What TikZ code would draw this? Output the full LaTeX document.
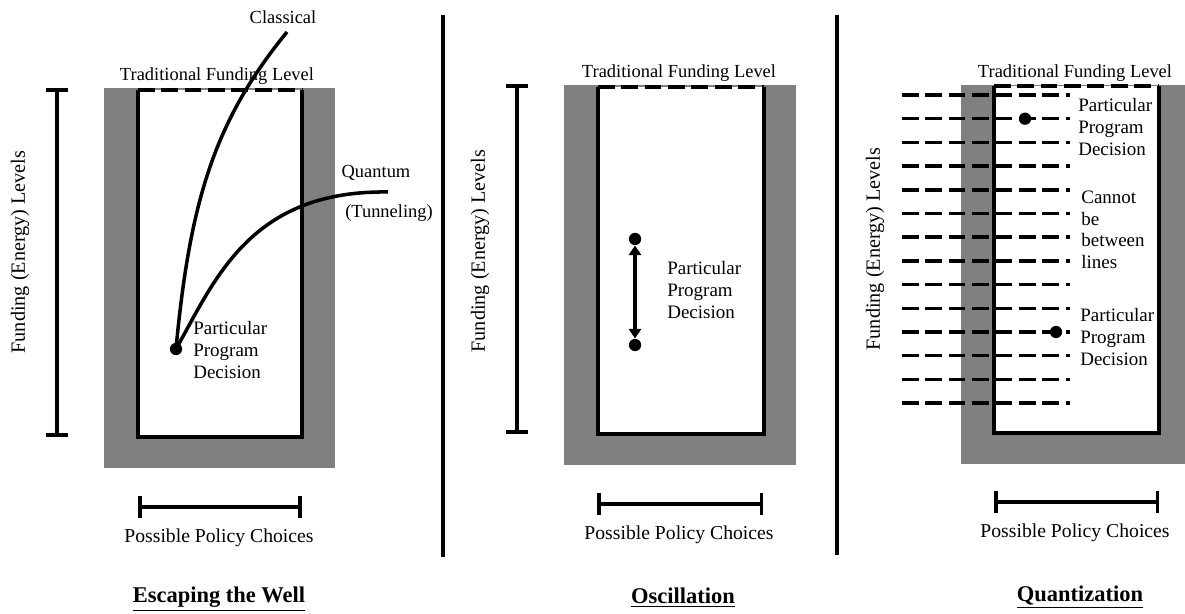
\documentclass[tikz,border=0pt]{standalone}
\usepackage{fontspec}
\setmainfont{Liberation Serif}
\usetikzlibrary{arrows.meta}
\definecolor{wellgrey}{RGB}{128,128,128}
\tikzset{
  wallfill/.style={fill=wellgrey, draw=none},
  wline/.style={line width=2pt, draw=black},
  wdash/.style={wline, dash pattern=on 9.5pt off 3.8pt},
  rangebar/.style={wline, {Bar[width=12.5pt]}-{Bar[width=12.5pt]}},
  dotnode/.style={circle, fill=black, inner sep=0pt, minimum size=7pt},
  lbl/.style={font=\fontsize{10.5}{12}\selectfont, inner sep=0pt},
  axlbl/.style={font=\fontsize{11.2}{13}\selectfont, inner sep=0pt},
  desc/.style={font=\fontsize{10.8}{12.3}\selectfont, align=left, anchor=west, inner sep=0pt},
  vlbl/.style={font=\fontsize{11.5}{13}\selectfont, rotate=90, inner sep=0pt},
  paneltitle/.style={font=\fontsize{12.8}{15}\bfseries\selectfont, inner sep=0pt}
}
\begin{document}
\begin{tikzpicture}[x=0.02cm,y=-0.02cm]
\useasboundingbox (0,0) rectangle (1185,614);

% ---------- separators ----------
\coordinate (s1t) at (443,15);  \coordinate (s1b) at (443,557);
\coordinate (s2t) at (837,15);  \coordinate (s2b) at (837,555);
\draw[wline] (s1t) -- (s1b);
\draw[wline] (s2t) -- (s2b);

% ================= Panel 1: Escaping the Well =================
\fill[wallfill] (104,88) rectangle (335,468);
\fill[white] (138,90) rectangle (302,437);
\draw[wline] (138,90) -- (138,437) -- (302,437) -- (302,90);
\draw[wdash] (138,90) -- (302,90);
\coordinate (a1t) at (57,88); \coordinate (a1b) at (57,437);
\draw[rangebar] (a1t) -- (a1b);
\coordinate (h1l) at (138,507); \coordinate (h1r) at (302,507);
\draw[rangebar] (h1l) -- (h1r);
\node[vlbl] (v1) at (20,252) {Funding (Energy) Levels};
\node[lbl] (t1) at (217,76) {Traditional Funding Level};
\node[axlbl] (p1) at (219,538) {Possible Policy Choices};
\node[paneltitle] (n1) at (219,599) {\underline{Escaping the Well}};
\node[dotnode] (d1) at (176,349) {};
\coordinate (cend) at (287,32);
\coordinate (qend) at (388,192);
\draw[wline] (d1.center) .. controls (190,200) and (215,120) .. (cend);
\draw[wline] (d1.center) .. controls (215,280) and (250,190) .. (qend);
\node[lbl] (cl) at (283,17) {Classical};
\node[lbl] (qu) at (376,173) {Quantum};
\node[lbl] (tu) at (389,213) {(Tunneling)};
\node[desc] (pd1) at (193,350) {Particular\\Program\\Decision};

% ================= Panel 2: Oscillation =================
\fill[wallfill] (564,85) rectangle (796,465);
\fill[white] (598,87) rectangle (764,434);
\draw[wline] (598,87) -- (598,434) -- (764,434) -- (764,87);
\draw[wdash] (598,87) -- (764,87);
\coordinate (a2t) at (517,84); \coordinate (a2b) at (517,434);
\draw[rangebar] (a2t) -- (a2b);
\coordinate (h2l) at (597,504); \coordinate (h2r) at (763,504);
\draw[rangebar] (h2l) -- (h2r);
\node[vlbl] (v2) at (480,251) {Funding (Energy) Levels};
\node[lbl] (t2) at (679,73) {Traditional Funding Level};
\node[axlbl] (p2) at (679,535) {Possible Policy Choices};
\node[paneltitle] (n2) at (683,598) {\underline{Oscillation}};
\node[dotnode] (od1) at (635,239) {};
\node[dotnode] (od2) at (635,345) {};
\draw[wline, {Triangle[width=7pt,length=5.5pt]}-{Triangle[width=7pt,length=5.5pt]}] (od1) -- (od2);
\node[desc] (pd2) at (667,290) {Particular\\Program\\Decision};

% ================= Panel 3: Quantization =================
\fill[wallfill] (961,85) rectangle (1185,464);
\fill[white] (994,86) rectangle (1159,433);
\draw[wline] (994,86) -- (994,433) -- (1159,433) -- (1159,86);
\draw[wdash] (994,86) -- (1159,86);
\foreach \i in {0,...,13} {
  \coordinate (ql\i) at (902,95+23.7*\i);
  \coordinate (qr\i) at (1070,95+23.7*\i);
  \draw[wdash] (ql\i) -- (qr\i);
}
\node[vlbl] (v3) at (875,249) {Funding (Energy) Levels};
\node[lbl] (t3) at (1075,73) {Traditional Funding Level};
\node[axlbl] (p3) at (1075,533) {Possible Policy Choices};
\node[paneltitle] (n3) at (1080,597) {\underline{Quantization}};
\coordinate (h3l) at (994,502); \coordinate (h3r) at (1159,502);
\draw[rangebar] (h3l) -- (h3r);
\node[dotnode] (qd1) at (1025,118.7) {};
\node[dotnode] (qd2) at (1056,332) {};
\node[desc] (pd3) at (1078,127) {Particular\\Program\\Decision};
\node[desc] (cb) at (1081,230) {Cannot\\be\\between\\lines};
\node[desc] (pd4) at (1080,337) {Particular\\Program\\Decision};
\end{tikzpicture}
\end{document}
